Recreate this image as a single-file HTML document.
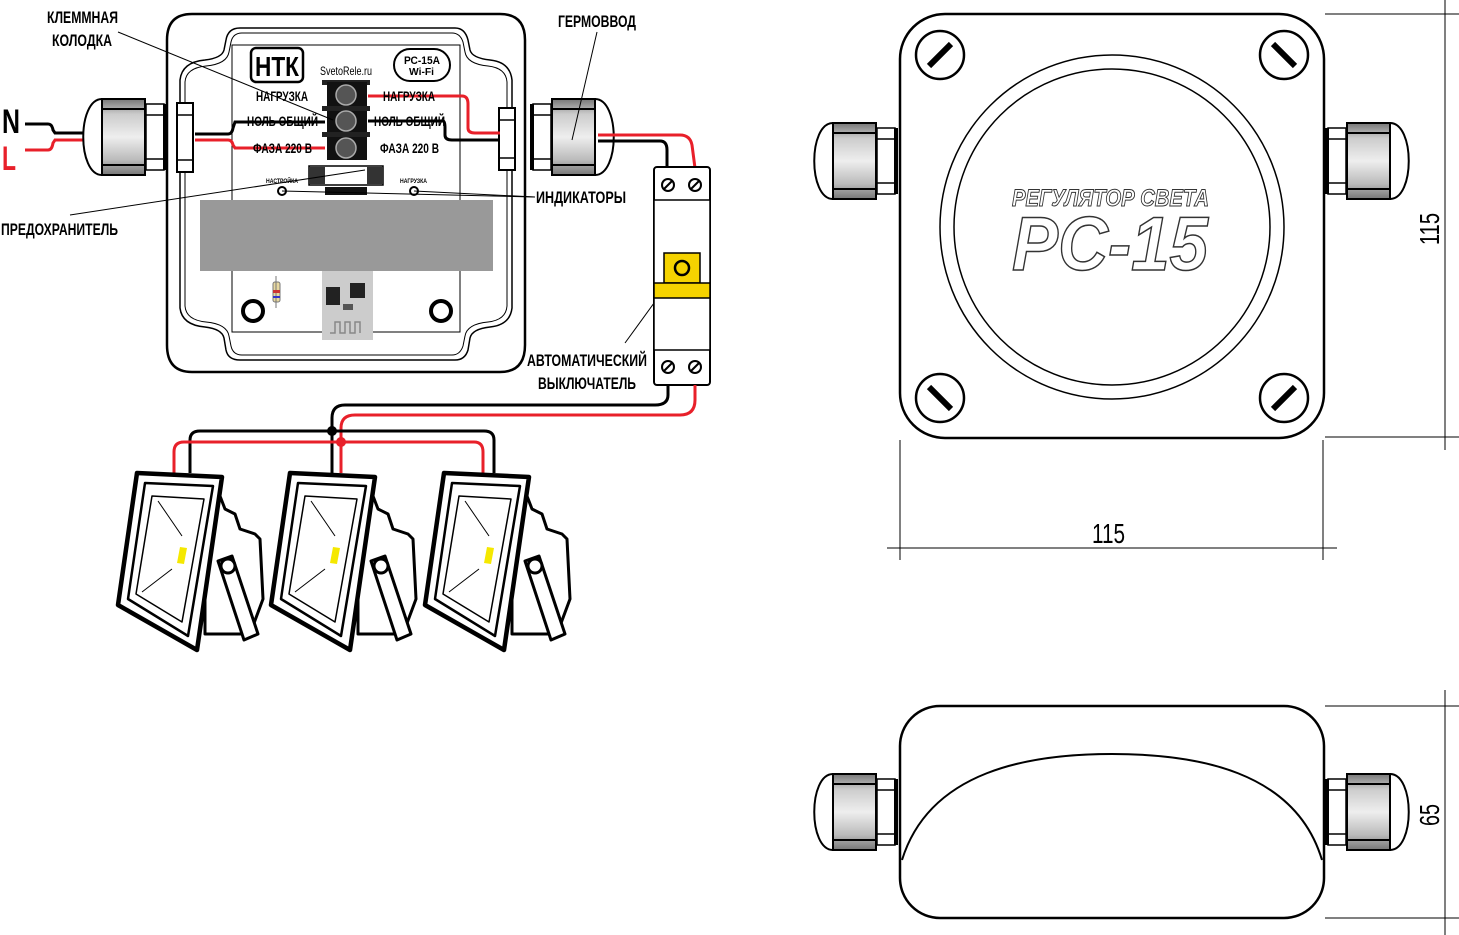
<!DOCTYPE html>
<html><head><meta charset="utf-8"><style>
html,body{margin:0;padding:0;background:#fff;}
svg{display:block;}
text{font-family:"Liberation Sans",sans-serif;}
</style></head><body>
<svg width="1459" height="935" viewBox="0 0 1459 935" xmlns="http://www.w3.org/2000/svg">
<defs>
<linearGradient id="nut" x1="0" y1="0" x2="0" y2="1">
<stop offset="0" stop-color="#777"/><stop offset="0.2" stop-color="#ccc"/><stop offset="0.5" stop-color="#eee"/><stop offset="0.8" stop-color="#bbb"/><stop offset="1" stop-color="#777"/></linearGradient>
<g id="gl">
<path d="M-65,-38 C-90,-38 -90,38 -65,38 Z" fill="#fff" stroke="#000" stroke-width="2"/>
<rect x="-65" y="-38" width="43" height="76" fill="url(#nut)" stroke="#000" stroke-width="2"/>
<line x1="-65" y1="-28" x2="-22" y2="-28" stroke="#000" stroke-width="2"/>
<line x1="-65" y1="28" x2="-22" y2="28" stroke="#000" stroke-width="2"/>
<rect x="-21" y="-33" width="18" height="66" fill="#fff" stroke="#000" stroke-width="1.5"/>
<line x1="-21" y1="-22" x2="-3" y2="-22" stroke="#000" stroke-width="1.5"/>
<line x1="-21" y1="22" x2="-3" y2="22" stroke="#000" stroke-width="1.5"/>
<rect x="-4" y="-33" width="4" height="66" fill="#000"/>
</g>
<g id="screw"><circle r="24" fill="#fff" stroke="#000" stroke-width="2.5"/><line x1="-11" y1="-11" x2="11" y2="11" stroke="#000" stroke-width="6"/></g>
<g id="screw2"><circle r="24" fill="#fff" stroke="#000" stroke-width="2.5"/><line x1="-11" y1="11" x2="11" y2="-11" stroke="#000" stroke-width="6"/></g>
<g id="flood" fill="#fff" stroke="#000" stroke-linejoin="round">
<path d="M85,15 L100,22 L105,35 L115,40 L120,55 L135,60 L140,65 L143,125 L130,160 L85,160 Z" stroke-width="3"/>
<path d="M17,-1 L102,3 L77,176 L-2,131 Z" stroke-width="4.5"/>
<path d="M25,9 L93,12 L68,162 L8,125 Z" stroke-width="2.5"/>
<path d="M32,22 L84,25 L62,148 L16,120 Z" stroke-width="1.5"/>
<line x1="38" y1="27" x2="62" y2="62" stroke-width="1"/>
<line x1="22" y1="118" x2="52" y2="95" stroke-width="1"/>
<path d="M60,73 L67,74 L64,90 L57,89 Z" fill="#f5e800" stroke="none"/>
<path d="M98,87 L112,82 L138,160 L124,166 Z" stroke-width="3"/>
<circle cx="108" cy="92" r="7" stroke-width="3"/>
</g>
</defs>

<text x="2" y="133" font-size="34" font-weight="bold" textLength="18" lengthAdjust="spacingAndGlyphs">N</text>
<text x="2" y="170" font-size="34" font-weight="bold" fill="#e8202a" textLength="14" lengthAdjust="spacingAndGlyphs">L</text>
<path d="M25,124 L48,124 Q52,124 53,130 L55,133 L100,133" fill="none" stroke="#000" stroke-width="3"/>
<path d="M25,150 L48,150 Q52,150 53,143 L55,140 L100,140" fill="none" stroke="#e8202a" stroke-width="3"/>

<path d="M192,14 H500 Q525,14 525,40 V345 Q525,372 500,372 H192 Q167,372 167,345 V40 Q167,14 192,14 Z" fill="#fff" stroke="#000" stroke-width="2.5"/>
<path d="M240,28 H455 Q465,28 468,40 L470,50 Q472,58 490,60 Q510,62 512,80 V308 Q510,325 490,327 Q472,329 470,338 L468,350 Q465,360 455,360 H240 Q228,360 226,350 L224,338 Q222,329 205,327 Q182,325 180,308 V80 Q182,62 205,60 Q222,58 224,50 L226,40 Q228,28 240,28 Z" fill="none" stroke="#000" stroke-width="1.5"/>
<path d="M242,33 H452 Q460,33 463,42 L465,52 Q467,64 488,66 Q506,68 507,82 V306 Q506,320 488,322 Q467,324 465,336 L463,346 Q460,355 452,355 H242 Q233,355 231,346 L229,336 Q227,324 206,322 Q186,320 185,306 V82 Q186,68 206,66 Q227,64 229,52 L231,42 Q233,33 242,33 Z" fill="none" stroke="#000" stroke-width="1"/>
<rect x="232" y="45" width="228" height="287" fill="none" stroke="#000" stroke-width="1"/>

<g transform="translate(167,137)"><use href="#gl"/></g>
<rect x="177" y="103" width="16" height="69" fill="#fff" stroke="#000" stroke-width="2"/>
<line x1="177" y1="115" x2="193" y2="115" stroke="#000" stroke-width="1.5"/><line x1="177" y1="160" x2="193" y2="160" stroke="#000" stroke-width="1.5"/>
<g transform="translate(530,137) scale(-1,1)"><use href="#gl"/></g>
<rect x="499" y="108" width="16" height="62" fill="#fff" stroke="#000" stroke-width="2"/>
<line x1="499" y1="120" x2="515" y2="120" stroke="#000" stroke-width="1.5"/><line x1="499" y1="158" x2="515" y2="158" stroke="#000" stroke-width="1.5"/>

<rect x="200" y="200" width="293" height="71" fill="#999"/>
<rect x="322" y="271" width="51" height="69" fill="#ccc"/>
<rect x="326" y="287" width="14" height="18" fill="#222"/>
<rect x="350" y="283" width="15" height="15" fill="#222"/>
<rect x="343" y="304" width="10" height="6" fill="#555"/>
<path d="M330,333 H335 V322 H340 V333 H345 V322 H350 V333 H355 V322 H360 V333" fill="none" stroke="#888" stroke-width="1.5"/>
<rect x="273" y="282" width="7" height="20" rx="2" fill="#e8d8a0" stroke="#777"/>
<line x1="276" y1="276" x2="276" y2="308" stroke="#777"/>
<rect x="273" y="290" width="7" height="3" fill="#c33"/><rect x="273" y="296" width="7" height="2" fill="#33c"/>
<circle cx="253" cy="311" r="10" fill="none" stroke="#000" stroke-width="4"/>
<circle cx="441" cy="311" r="10" fill="none" stroke="#000" stroke-width="4"/>

<rect x="251" y="48" width="52" height="34" rx="5" fill="#fff" stroke="#000" stroke-width="2.5"/>
<text x="255" y="76" font-size="28" font-weight="bold" textLength="44" lengthAdjust="spacingAndGlyphs">НТК</text>
<rect x="394" y="49" width="56" height="32" rx="16" fill="#fff" stroke="#000" stroke-width="2"/>
<text x="404" y="64" font-size="11" font-weight="bold" textLength="36" lengthAdjust="spacingAndGlyphs">РС-15А</text>
<text x="409" y="75" font-size="10" font-weight="bold" textLength="25" lengthAdjust="spacingAndGlyphs">Wi-Fi</text>
<text x="320" y="75" font-size="12" textLength="52" lengthAdjust="spacingAndGlyphs">SvetoRele.ru</text>

<path d="M195,134 H228 Q232,134 233,128 L235,122 H325" fill="none" stroke="#000" stroke-width="3"/>
<path d="M195,140 H228 Q232,140 233,145 L235,148 H325" fill="none" stroke="#e8202a" stroke-width="3"/>
<path d="M368,96 H462 Q468,96 468,104 V128 Q468,133 475,133 H500" fill="none" stroke="#e8202a" stroke-width="3"/>
<path d="M368,121 H443 Q445,121 445,128 V135 Q445,140 452,140 H500" fill="none" stroke="#000" stroke-width="3"/>

<rect x="322" y="80" width="48" height="5" fill="#222"/>
<rect x="327" y="82" width="40" height="78" fill="#111"/>
<rect x="322" y="106" width="48" height="5" fill="#222"/><rect x="322" y="132" width="48" height="5" fill="#222"/>
<circle cx="346" cy="95" r="10" fill="#555" stroke="#aaa" stroke-width="1.5"/>
<circle cx="346" cy="121" r="10" fill="#555" stroke="#aaa" stroke-width="1.5"/>
<circle cx="346" cy="148" r="10" fill="#555" stroke="#aaa" stroke-width="1.5"/>
<rect x="309" y="166" width="74" height="19" fill="#fff" stroke="#000" stroke-width="1.5"/>
<rect x="309" y="167" width="16" height="17" fill="#333"/><rect x="367" y="167" width="16" height="17" fill="#333"/>
<rect x="325" y="187" width="42" height="8" fill="#111"/>

<g font-size="14" font-weight="bold">
<text x="256" y="101" textLength="52" lengthAdjust="spacingAndGlyphs">НАГРУЗКА</text>
<text x="247" y="126" textLength="71" lengthAdjust="spacingAndGlyphs">НОЛЬ ОБЩИЙ</text>
<text x="253" y="153" textLength="59" lengthAdjust="spacingAndGlyphs">ФАЗА 220 В</text>
<text x="383" y="101" textLength="52" lengthAdjust="spacingAndGlyphs">НАГРУЗКА</text>
<text x="374" y="126" textLength="71" lengthAdjust="spacingAndGlyphs">НОЛЬ ОБЩИЙ</text>
<text x="380" y="153" textLength="59" lengthAdjust="spacingAndGlyphs">ФАЗА 220 В</text>
</g>
<text x="266" y="183" font-size="6" font-weight="bold" textLength="32" lengthAdjust="spacingAndGlyphs">НАСТРОЙКА</text>
<text x="400" y="183" font-size="6" font-weight="bold" textLength="27" lengthAdjust="spacingAndGlyphs">НАГРУЗКА</text>
<circle cx="282" cy="191" r="4" fill="#fff" stroke="#000" stroke-width="2"/>
<circle cx="414" cy="191" r="4" fill="#fff" stroke="#000" stroke-width="2"/>

<g stroke="#000" stroke-width="1" fill="none">
<line x1="118" y1="32" x2="333" y2="120"/>
<line x1="70" y1="215" x2="365" y2="170"/>
<line x1="282" y1="191" x2="535" y2="197"/>
<line x1="414" y1="191" x2="535" y2="197"/>
<line x1="597" y1="32" x2="572" y2="140"/>
<line x1="625" y1="343" x2="678" y2="270"/>
</g>
<g font-size="17" font-weight="bold">
<text x="47" y="23" textLength="71" lengthAdjust="spacingAndGlyphs">КЛЕММНАЯ</text>
<text x="52" y="46" textLength="60" lengthAdjust="spacingAndGlyphs">КОЛОДКА</text>
<text x="558" y="27" textLength="78" lengthAdjust="spacingAndGlyphs">ГЕРМОВВОД</text>
<text x="536" y="203" textLength="90" lengthAdjust="spacingAndGlyphs">ИНДИКАТОРЫ</text>
<text x="1" y="235" textLength="117" lengthAdjust="spacingAndGlyphs">ПРЕДОХРАНИТЕЛЬ</text>
<text x="527" y="366" textLength="120" lengthAdjust="spacingAndGlyphs">АВТОМАТИЧЕСКИЙ</text>
<text x="538" y="389" textLength="98" lengthAdjust="spacingAndGlyphs">ВЫКЛЮЧАТЕЛЬ</text>
</g>

<path d="M598,135 H680 Q690,135 692,145 L695,168" fill="none" stroke="#e8202a" stroke-width="3"/>
<path d="M598,141 H660 Q667,141 667,150 V168" fill="none" stroke="#000" stroke-width="3"/>
<rect x="654" y="167" width="56" height="218" rx="3" fill="#fff" stroke="#000" stroke-width="2"/>
<rect x="654" y="200" width="56" height="150" fill="#fff" stroke="#000" stroke-width="1.5"/>
<g fill="#fff" stroke="#000" stroke-width="2"><circle cx="668" cy="185" r="6"/><circle cx="695" cy="185" r="6"/><circle cx="668" cy="367" r="6"/><circle cx="695" cy="367" r="6"/></g>
<g stroke="#000" stroke-width="2"><line x1="664" y1="189" x2="672" y2="181"/><line x1="691" y1="189" x2="699" y2="181"/><line x1="664" y1="371" x2="672" y2="363"/><line x1="691" y1="371" x2="699" y2="363"/></g>
<rect x="664" y="253" width="36" height="30" fill="#f5d300" stroke="#000" stroke-width="1.5"/>
<circle cx="682" cy="268" r="7" fill="none" stroke="#000" stroke-width="2.5"/>
<rect x="654" y="283" width="56" height="15" fill="#f5d300" stroke="#000" stroke-width="1.5"/>

<path d="M668,385 V395 Q668,405 655,405 H345 Q332,405 332,418 V473" fill="none" stroke="#000" stroke-width="3"/>
<path d="M695,385 V400 Q695,415 680,415 H355 Q341,415 341,428 V473" fill="none" stroke="#e8202a" stroke-width="3"/>
<path d="M190,473 V440 Q190,431 200,431 H484 Q494,431 494,440 V473" fill="none" stroke="#000" stroke-width="3"/>
<path d="M174,473 V452 Q174,442 184,442 H474 Q483,442 483,452 V473" fill="none" stroke="#e8202a" stroke-width="3"/>
<circle cx="332" cy="431" r="5" fill="#000"/>
<circle cx="341" cy="442" r="5" fill="#e8202a"/>

<use href="#flood" transform="translate(120,474)"/>
<use href="#flood" transform="translate(273,474)"/>
<use href="#flood" transform="translate(427,474)"/>

<g stroke="#000" stroke-width="1" fill="none">
<line x1="1325" y1="14" x2="1459" y2="14"/>
<line x1="1325" y1="437" x2="1459" y2="437"/>
<line x1="1445" y1="0" x2="1445" y2="450"/>
<line x1="900" y1="440" x2="900" y2="560"/>
<line x1="1323" y1="440" x2="1323" y2="560"/>
<line x1="887" y1="548" x2="1337" y2="548"/>
<line x1="1325" y1="706" x2="1459" y2="706"/>
<line x1="1325" y1="918" x2="1459" y2="918"/>
<line x1="1445" y1="690" x2="1445" y2="935"/>
</g>
<text x="1092" y="543" font-size="28" textLength="33" lengthAdjust="spacingAndGlyphs">115</text>
<text font-size="28" transform="translate(1439,245) rotate(-90)" textLength="32" lengthAdjust="spacingAndGlyphs">115</text>
<text font-size="28" transform="translate(1439,826) rotate(-90)" textLength="22" lengthAdjust="spacingAndGlyphs">65</text>

<g transform="translate(898,161)"><use href="#gl"/></g>
<g transform="translate(1325,161) scale(-1,1)"><use href="#gl"/></g>
<rect x="900" y="14" width="424" height="424" rx="45" fill="#fff" stroke="#000" stroke-width="2.5"/>
<circle cx="1112" cy="227" r="172" fill="none" stroke="#000" stroke-width="1.5"/>
<circle cx="1112" cy="227" r="158" fill="none" stroke="#000" stroke-width="1.5"/>
<use href="#screw2" transform="translate(940,55)"/>
<use href="#screw" transform="translate(1284,55)"/>
<use href="#screw" transform="translate(940,398)"/>
<use href="#screw2" transform="translate(1284,398)"/>
<text x="1012" y="206" font-size="24" font-style="italic" font-weight="bold" fill="#fff" stroke="#333" stroke-width="1" textLength="197" lengthAdjust="spacingAndGlyphs">РЕГУЛЯТОР СВЕТА</text>
<text x="1012" y="270" font-size="76" font-style="italic" font-weight="bold" fill="#fff" stroke="#333" stroke-width="1.5" textLength="196" lengthAdjust="spacingAndGlyphs">РС-15</text>

<g transform="translate(898,812)"><use href="#gl"/></g>
<g transform="translate(1325,812) scale(-1,1)"><use href="#gl"/></g>
<rect x="900" y="706" width="424" height="212" rx="40" fill="#fff" stroke="#000" stroke-width="2.5"/>
<path d="M902,860 C930,770 1030,754 1112,754 C1195,754 1295,770 1322,860" fill="none" stroke="#000" stroke-width="2"/>
</svg>
</body></html>
